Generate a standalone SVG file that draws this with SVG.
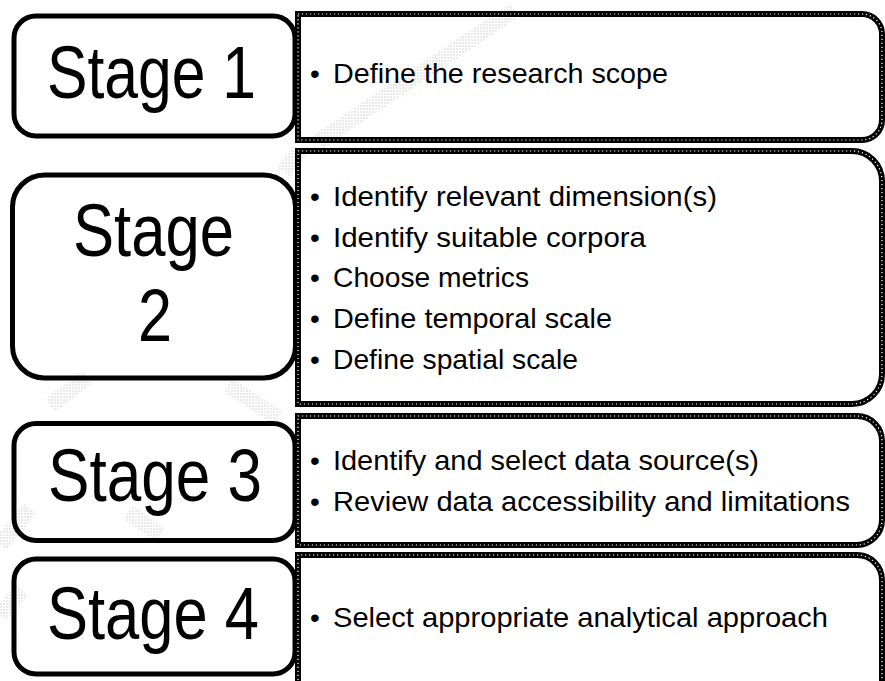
<svg xmlns="http://www.w3.org/2000/svg" width="885" height="681" viewBox="0 0 885 681">
  <defs>
    <style>
      .stage { fill: none; stroke: #000; stroke-width: 5; }
      .panel-base { fill: none; stroke: #000; stroke-width: 6; }
      .panel-dots { fill: none; stroke: #fff; stroke-width: 1.2; stroke-dasharray: 1.2 2.8; }
      .big { font-family: "Liberation Sans", Arial, sans-serif; font-size: 74px; fill: #000; }
      .item { font-family: "Liberation Sans", Arial, sans-serif; font-size: 28px; fill: #000; }
      .wm { fill: none; stroke: url(#dither); stroke-width: 16; }
    </style>
    <pattern id="dither" width="3" height="3" patternUnits="userSpaceOnUse">
      <rect width="3" height="3" fill="#ffffff"/>
      <rect width="2" height="2" fill="#dcdcdc"/>
    </pattern>
  </defs>

  <rect width="885" height="681" fill="#fff"/>

  <!-- faint background watermark strokes -->
  <g id="watermark" opacity="0.6">
    <path class="wm" d="M515 10 L318 142"/>
    <path class="wm" d="M300 150 L284 172"/>
    <path class="wm" d="M50 405 L88 377"/>
    <path class="wm" d="M228 385 L278 418"/>
    <path class="wm" d="M0 545 L30 508"/>
    <path class="wm" d="M0 615 L22 590"/>
    <path class="wm" d="M128 512 L160 535"/>
  </g>

  <!-- stage labels -->
  <g id="stage1">
    <rect class="stage" x="14" y="16" width="281" height="120" rx="22"/>
    <text class="big" x="47" y="98" textLength="209" lengthAdjust="spacingAndGlyphs">Stage 1</text>
  </g>
  <g id="stage2">
    <rect class="stage" x="12.5" y="175" width="283" height="203" rx="32"/>
    <text class="big" x="73" y="256" textLength="161" lengthAdjust="spacingAndGlyphs">Stage</text>
    <text class="big" x="138" y="341" textLength="34" lengthAdjust="spacingAndGlyphs">2</text>
  </g>
  <g id="stage3">
    <rect class="stage" x="14" y="423.5" width="281" height="117" rx="22"/>
    <text class="big" x="48" y="501" textLength="214" lengthAdjust="spacingAndGlyphs">Stage 3</text>
  </g>
  <g id="stage4">
    <rect class="stage" x="14" y="559" width="281" height="115" rx="22"/>
    <text class="big" x="47" y="639" textLength="212" lengthAdjust="spacingAndGlyphs">Stage 4</text>
  </g>

  <!-- task panels: square on the left, rounded on the right -->
  <g id="tasks1">
    <path class="panel-base" d="M298 14 H862 A20 20 0 0 1 882 34 V120 A20 20 0 0 1 862 140 H298 Z"/>
    <path class="panel-dots" d="M298 14 H862 A20 20 0 0 1 882 34 V120 A20 20 0 0 1 862 140 H298 Z"/>
    <text class="item" x="310" y="83">•</text>
    <text class="item" x="333" y="83" textLength="335" lengthAdjust="spacingAndGlyphs">Define the research scope</text>
  </g>
  <g id="tasks2">
    <path class="panel-base" d="M298 151 H852 A30 30 0 0 1 882 181 V374 A30 30 0 0 1 852 404 H298 Z"/>
    <path class="panel-dots" d="M298 151 H852 A30 30 0 0 1 882 181 V374 A30 30 0 0 1 852 404 H298 Z"/>
    <text class="item" x="310" y="206">•</text>
    <text class="item" x="333" y="206" textLength="384" lengthAdjust="spacingAndGlyphs">Identify relevant dimension(s)</text>
    <text class="item" x="310" y="247">•</text>
    <text class="item" x="333" y="247" textLength="313" lengthAdjust="spacingAndGlyphs">Identify suitable corpora</text>
    <text class="item" x="310" y="287">•</text>
    <text class="item" x="333" y="287" textLength="196" lengthAdjust="spacingAndGlyphs">Choose metrics</text>
    <text class="item" x="310" y="328">•</text>
    <text class="item" x="333" y="328" textLength="279" lengthAdjust="spacingAndGlyphs">Define temporal scale</text>
    <text class="item" x="310" y="369">•</text>
    <text class="item" x="333" y="369" textLength="245" lengthAdjust="spacingAndGlyphs">Define spatial scale</text>
  </g>
  <g id="tasks3">
    <path class="panel-base" d="M298 416 H857 A25 25 0 0 1 882 441 V520 A25 25 0 0 1 857 545 H298 Z"/>
    <path class="panel-dots" d="M298 416 H857 A25 25 0 0 1 882 441 V520 A25 25 0 0 1 857 545 H298 Z"/>
    <text class="item" x="310" y="470">•</text>
    <text class="item" x="333" y="470" textLength="426" lengthAdjust="spacingAndGlyphs">Identify and select data source(s)</text>
    <text class="item" x="310" y="511">•</text>
    <text class="item" x="333" y="511" textLength="517" lengthAdjust="spacingAndGlyphs">Review data accessibility and limitations</text>
  </g>
  <g id="tasks4">
    <path class="panel-base" d="M298 700 V555 H857 A25 25 0 0 1 882 580 V700"/>
    <path class="panel-dots" d="M298 700 V555 H857 A25 25 0 0 1 882 580 V700"/>
    <text class="item" x="310" y="627">•</text>
    <text class="item" x="333" y="627" textLength="495" lengthAdjust="spacingAndGlyphs">Select appropriate analytical approach</text>
  </g>

  <g id="connectors"/>
</svg>
